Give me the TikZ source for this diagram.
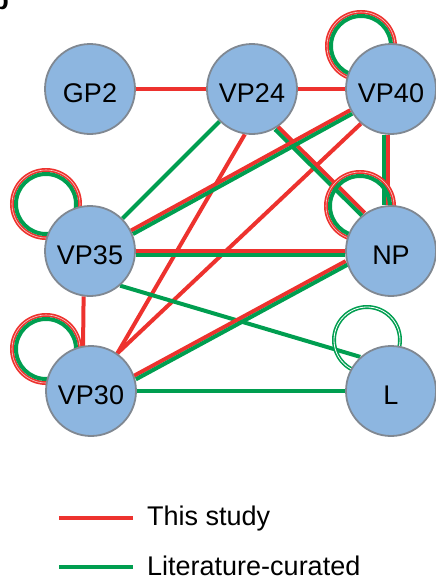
\documentclass[tikz,border=0pt]{standalone}
\usepackage{fontspec}
\setmainfont{Liberation Sans}
\usetikzlibrary{backgrounds,calc}
\definecolor{nodefill}{RGB}{141,182,224}
\definecolor{nodeline}{RGB}{128,136,146}
\definecolor{ered}{RGB}{237,50,46}
\definecolor{egreen}{RGB}{0,158,80}
\newcommand{\pairedge}[2]{%
  \draw[redE] ($(#1)!2pt!90:(#2)$) -- ($(#2)!2pt!-90:(#1)$);
  \draw[greenE] ($(#1)!2pt!-90:(#2)$) -- ($(#2)!2pt!90:(#1)$);}
\newcommand{\rgloop}[2]{%
  \draw[redloop] ([shift={#2}]#1.center) circle[radius=34pt];
  \draw[greenE] ([shift={#2}]#1.center) circle[radius=30pt];}
\tikzset{
  prot/.style={circle, minimum size=90pt, inner sep=0pt, fill=nodefill,
    draw=nodeline, line width=1.8pt, text height=26pt, text depth=0pt,
    font=\fontsize{27}{32}\selectfont},
  redE/.style={draw=ered, line width=4pt},
  greenE/.style={draw=egreen, line width=4pt},
  redloop/.style={draw=ered, line width=1.7pt, double=white!75!ered, double distance=0.6pt},
  greendbl/.style={draw=egreen, line width=1.6pt, double=white, double distance=0.8pt},
  legtext/.style={anchor=base west, inner sep=0pt, font=\fontsize{27}{32}\selectfont}
}
\begin{document}
\begin{tikzpicture}[x=1pt,y=-1pt]
\useasboundingbox (0,0) rectangle (436,581);
% panel letter (cut off)
\node[anchor=base east, inner sep=0pt, font=\bfseries\fontsize{27}{32}\selectfont] (lbl) at (9,9) {b};
% proteins
\node[prot] (GP2)  at (90,89)  {GP2};
\node[prot] (VP24) at (252,89) {VP24};
\node[prot] (VP40) at (391,89) {VP40};
\node[prot] (VP35) at (90,251) {VP35};
\node[prot] (NP)   at (391,251) {NP};
\node[prot] (VP30) at (91,391) {VP30};
\node[prot] (L)    at (391,391) {L};
\begin{pgfonlayer}{background}
  % single edges
  \draw[redE] (GP2.east) -- (VP24.west);
  \draw[redE] (VP24.east) -- (VP40.west);
  \draw[greenE] (VP24.225) -- (VP35.45);
  \draw[redE] (VP24.261) -- (VP30.55);
  \draw[redE] (VP40.229) -- (VP30.55);
  \draw[greenE] (VP35.311) -- (L.132);
  \draw[redE] (VP35.262) -- (VP30.100);
  \draw[greenE] (VP30.east) -- (L.west);
  % paired edges (this study + literature)
  \pairedge{VP24.302}{NP.127}
  \pairedge{VP35.24}{VP40.210}
  \pairedge{VP40.264}{NP.96}
  \pairedge{VP35.357}{NP.183}
  \pairedge{VP30.17}{NP.195}
  % self loops
  \rgloop{VP40}{(-30,-43)}
  \rgloop{NP}{(-31,-45)}
  \rgloop{VP35}{(-44,-47)}
  \rgloop{VP30}{(-45,-42)}
  \draw[greendbl] ([shift={(-24,-51)}]L.center) circle[radius=33pt];
\end{pgfonlayer}
% legend
\coordinate (ra) at (59,518);
\coordinate (rb) at (133,518);
\coordinate (ga) at (59,567);
\coordinate (gb) at (133,567);
\draw[redE] (ra) -- (rb);
\draw[greenE] (ga) -- (gb);
\node[legtext] (t1) at (147,525) {This study};
\node[legtext] (t2) at (147,575) {Literature-curated};
\end{tikzpicture}
\end{document}
